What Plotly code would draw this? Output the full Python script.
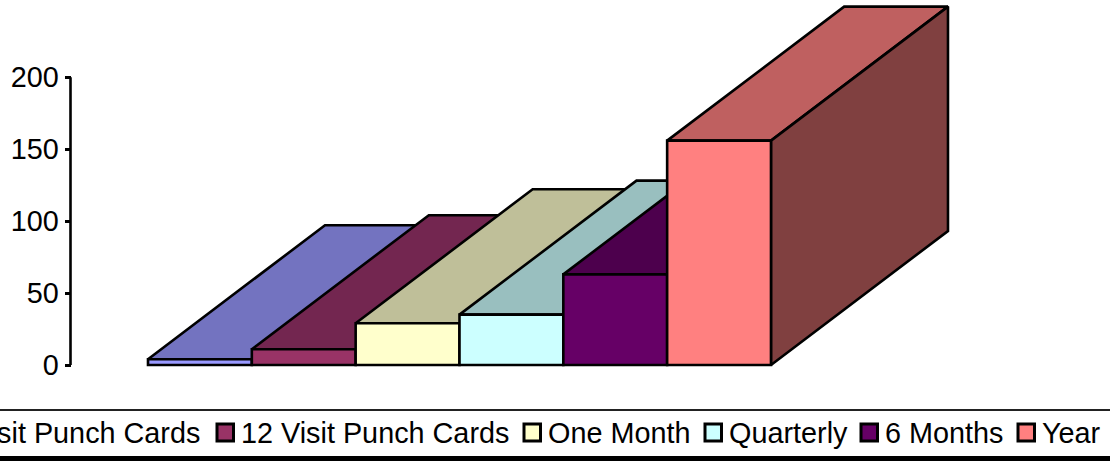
import plotly.graph_objects as go

categories = ["6 Visit Punch Cards", "12 Visit Punch Cards", "One Month", "Quarterly", "6 Months", "Year"]
values = [4, 11, 29, 35, 63, 156]
front_colors = ["#9999FF", "#993366", "#FFFFCC", "#CCFFFF", "#660066", "#FF8080"]
top_colors = ["#7373C0", "#732650", "#BFBF99", "#99BFBF", "#4D004D", "#BF6060"]
side_colors = ["#4D4D80", "#4D1A33", "#808066", "#668080", "#330033", "#804040"]
tick_values = [0, 50, 100, 150, 200]

W, H = 1110, 461
BAR_LEFT_PX, BAR_PX = 148.0, 103.83
ZERO_PX, TOP_PX = 365.0, 77.3
PX_PER_UNIT = (ZERO_PX - TOP_PX) / 200
DEPTH_X = 177 / BAR_PX
DEPTH_Y = 134 / PX_PER_UNIT
FONT = "Liberation Sans, Arial, sans-serif"
FS = 28.8
LW = 2.6

fig = go.Figure()
for i, (name, v) in enumerate(zip(categories, values)):
    z = 2 * i
    l, r = i, i + 1
    fig.add_trace(go.Scatter(
        x=[l, r, r + DEPTH_X, l + DEPTH_X, l], y=[v, v, v + DEPTH_Y, v + DEPTH_Y, v],
        mode="lines", fill="toself", fillcolor=top_colors[i], line=dict(color="black", width=LW),
        showlegend=False, hoverinfo="skip", zorder=z))
    fig.add_trace(go.Scatter(
        x=[r, r + DEPTH_X, r + DEPTH_X, r, r], y=[0, DEPTH_Y, v + DEPTH_Y, v, 0],
        mode="lines", fill="toself", fillcolor=side_colors[i], line=dict(color="black", width=LW),
        showlegend=False, hoverinfo="skip", zorder=z))
    fig.add_trace(go.Bar(
        x=[l + 0.5], y=[v], width=1, name=name, marker=dict(color=front_colors[i], line=dict(color="black", width=LW)),
        showlegend=False, zorder=z + 1))

# Axis line runs only from 0 to 200, while the marks rise above it
fig.add_shape(type="line", xref="paper", yref="y", x0=70.5 / W, x1=70.5 / W, y0=tick_values[0], y1=tick_values[-1],
              line=dict(color="black", width=2.6))

# Legend strip
swatch_left = [None, 216, 523, 704, 860, 1017]
text_left = [None, 239.5, 546.5, 727.5, 883.5, 1040.5]
fig.add_shape(type="line", xref="paper", yref="paper", x0=0, x1=1, y0=1 - 410 / H, y1=1 - 410 / H,
              line=dict(color="#222222", width=2))
fig.add_shape(type="line", xref="paper", yref="paper", x0=0, x1=1, y0=1 - 458.5 / H, y1=1 - 458.5 / H,
              line=dict(color="black", width=5))
for i, name in enumerate(categories):
    if swatch_left[i] is None:
        fig.add_annotation(x=201 / W, y=1 - 432.5 / H, xref="paper", yref="paper", text=name, showarrow=False,
                           xanchor="right", yanchor="middle", font=dict(family=FONT, size=FS, color="black"), borderpad=0)
        continue
    fig.add_shape(type="rect", xref="paper", yref="paper",
                  x0=(swatch_left[i] + 1) / W, x1=(swatch_left[i] + 17.5) / W, y0=1 - 441 / H, y1=1 - 424 / H,
                  fillcolor=front_colors[i], line=dict(color="black", width=3))
    fig.add_annotation(x=text_left[i] / W, y=1 - 432.5 / H, xref="paper", yref="paper", text=name, showarrow=False,
                       xanchor="left", yanchor="middle", font=dict(family=FONT, size=FS, color="black"), borderpad=0)

fig.update_layout(
    width=W, height=H, margin=dict(l=0, r=0, t=0, b=0), autosize=False,
    paper_bgcolor="white", plot_bgcolor="white", barmode="overlay", showlegend=False,
    xaxis=dict(domain=[0, 1], range=[-BAR_LEFT_PX / BAR_PX, (W - BAR_LEFT_PX) / BAR_PX], visible=False),
    yaxis=dict(domain=[0, 1], range=[(ZERO_PX - H) / PX_PER_UNIT, ZERO_PX / PX_PER_UNIT], anchor="free", position=70.5 / W,
               tickvals=tick_values, ticks="outside", ticklen=6, tickwidth=2.6, tickcolor="black",
               showline=False, showgrid=False, zeroline=False,
               tickfont=dict(family=FONT, size=FS, color="black")),
)
fig.write_html("out.html", config={"displayModeBar": False},
               post_script="document.documentElement.style.overflow='hidden';document.body.style.margin='0';")
